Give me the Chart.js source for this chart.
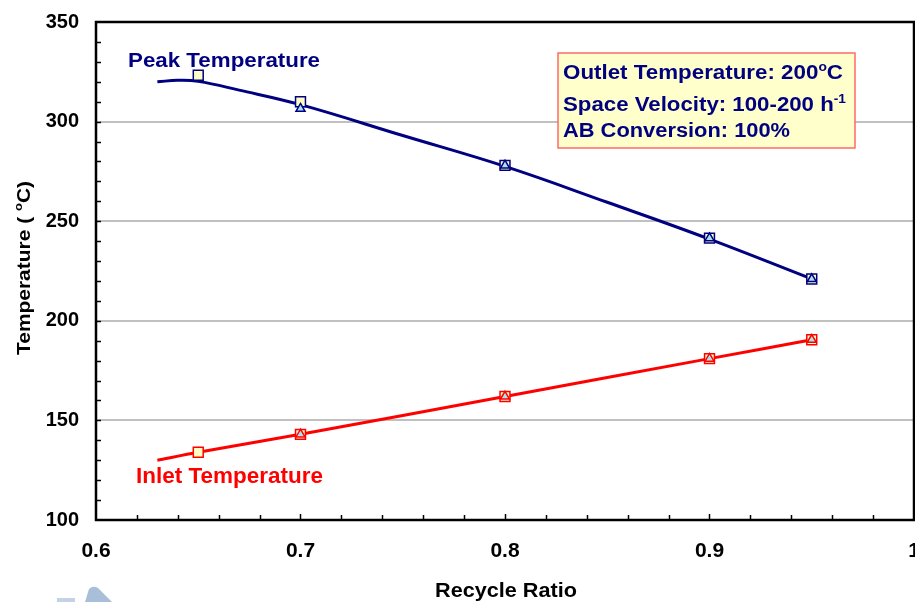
<!DOCTYPE html>
<html>
<head>
<meta charset="utf-8">
<title>Recycle Ratio vs Temperature</title>
<script src="https://cdn.jsdelivr.net/npm/chart.js@4.4.1/dist/chart.umd.min.js"></script>
<style>
    html, body { margin: 0; padding: 0; background: #fff; overflow: hidden; }
    canvas { display: block; }
</style>
</head>
<body>
<canvas id="tempChart" width="915" height="602"></canvas>
<script>
// fitted curves
const peakCurveX = [0.63, 0.64, 0.65, 0.67, 0.70, 0.75, 0.80, 0.85, 0.90, 0.95];
const peakCurveY = [320, 320.7, 320.2, 315.8, 308.5, 293, 277.5, 259.5, 241, 221];
const inletCurveX = [0.63, 0.65, 0.70, 0.80, 0.90, 0.95];
const inletCurveY = [130, 134, 143, 162, 181, 190.5];

// measured points (squares / triangles)
const peakSquareX = [0.65, 0.70, 0.80, 0.90, 0.95];
const peakSquareY = [323.3, 310, 278, 241.5, 221];
const peakTriangleX = [0.70, 0.80, 0.90, 0.95];
const peakTriangleY = [306.5, 278, 241.5, 221];
const inletSquareX = [0.65, 0.70, 0.80, 0.90, 0.95];
const inletSquareY = [134, 143, 162, 181, 190.5];
const inletTriangleX = [0.70, 0.80, 0.90, 0.95];
const inletTriangleY = [143, 162, 181, 190.5];

// axes
const xMin = 0.6, xMax = 1.0, xStep = 0.1, xMinorStep = 0.02;
const yMin = 100, yMax = 350, yStep = 50, yMinorStep = 10;

const NAVY = '#000080';
const RED = '#ff0000';
const FONT = 'Arial, "Liberation Sans", sans-serif';

function pairs(xs, ys) {
    return xs.map((x, i) => ({ x: x, y: ys[i] }));
}

// draws bold text runs (with superscripts) squeezed/stretched to a given width
function drawRuns(ctx, parts, x, y, size, width, color, align) {
    let natural = 0;
    parts.forEach(p => {
        ctx.font = `bold ${p.sup ? size * 0.62 : size}px ${FONT}`;
        natural += ctx.measureText(p.t).width;
    });
    const sx = width ? width / natural : 1;
    ctx.save();
    ctx.translate(x, y);
    ctx.scale(sx, 1);
    ctx.fillStyle = color;
    ctx.textAlign = 'left';
    ctx.textBaseline = 'alphabetic';
    let cx = align === 'center' ? -natural / 2 : 0;
    parts.forEach(p => {
        ctx.font = `bold ${p.sup ? size * 0.62 : size}px ${FONT}`;
        ctx.fillText(p.t, cx, p.sup ? -size * 0.42 : 0);
        cx += ctx.measureText(p.t).width;
    });
    ctx.restore();
}

const decorations = {
    id: 'decorations',
    beforeDatasetsDraw(chart) {
        const ctx = chart.ctx;
        const xs = chart.scales.x, ys = chart.scales.y;
        const a = chart.chartArea;

        ctx.save();
        ctx.strokeStyle = '#000';
        ctx.lineWidth = 1.5;
        // inward minor ticks
        for (let v = yMin + yMinorStep; v < yMax; v += yMinorStep) {
            const py = Math.round(ys.getPixelForValue(v)) + 0.5;
            ctx.beginPath();
            ctx.moveTo(a.left, py);
            ctx.lineTo(a.left + 5, py);
            ctx.stroke();
        }
        for (let i = 1; i < Math.round((xMax - xMin) / xMinorStep); i++) {
            const v = xMin + i * xMinorStep;
            const major = i % 5 === 0;
            const px = Math.round(xs.getPixelForValue(v)) + 0.5;
            ctx.beginPath();
            ctx.moveTo(px, a.bottom);
            ctx.lineTo(px, a.bottom - (major ? 6 : 5));
            ctx.stroke();
        }
        ctx.restore();
    },
    afterDraw(chart) {
        const ctx = chart.ctx;
        const a = chart.chartArea;

        // plot frame
        ctx.save();
        ctx.strokeStyle = '#000';
        ctx.lineWidth = 2.5;
        ctx.strokeRect(a.left, a.top, a.right - a.left, a.bottom - a.top);
        ctx.restore();

        // series labels
        drawRuns(ctx, [{ t: 'Peak Temperature' }], 128, 67, 21, 192, NAVY);
        drawRuns(ctx, [{ t: 'Inlet Temperature' }], 136, 483, 21.5, 187, RED);

        // conditions box
        ctx.save();
        ctx.fillStyle = '#ffffcc';
        ctx.fillRect(558, 53, 297, 95);
        ctx.strokeStyle = '#ff6a6a';
        ctx.lineWidth = 1.5;
        ctx.strokeRect(558, 53, 297, 95);
        ctx.restore();
        drawRuns(ctx, [{ t: 'Outlet Temperature: 200' }, { t: 'o', sup: true }, { t: 'C' }], 563, 79, 19.5, 280, NAVY);
        drawRuns(ctx, [{ t: 'Space Velocity: 100-200 h' }, { t: '-1', sup: true }], 563, 111, 19.5, 283, NAVY);
        drawRuns(ctx, [{ t: 'AB Conversion: 100%' }], 563, 137, 19.5, 227, NAVY);

        // axis titles
        ctx.save();
        ctx.translate(30, 268);
        ctx.rotate(-Math.PI / 2);
        drawRuns(ctx, [{ t: 'Temperature ( ' }, { t: 'o', sup: true }, { t: 'C)' }], 0, 0, 18.5, 174, '#000', 'center');
        ctx.restore();
        drawRuns(ctx, [{ t: 'Recycle Ratio' }], 506, 597, 20.5, 142, '#000', 'center');

        // faint logo corner at the bottom left
        ctx.save();
        ctx.fillStyle = '#a9bed8';
        ctx.beginPath();
        ctx.moveTo(85, 602);
        ctx.lineTo(89, 589);
        ctx.quadraticCurveTo(93, 585, 98, 588);
        ctx.lineTo(112, 602);
        ctx.closePath();
        ctx.fill();
        ctx.fillStyle = '#c3d2e4';
        ctx.fillRect(57, 598, 18, 4);
        ctx.restore();
    }
};

const ctx = document.getElementById('tempChart').getContext('2d');
new Chart(ctx, {
    type: 'scatter',
    data: {
        datasets: [
            {
                label: 'Peak triangles',
                data: pairs(peakTriangleX, peakTriangleY),
                showLine: false,
                pointStyle: 'triangle',
                pointRadius: 5.2,
                backgroundColor: '#a6e4f2',
                borderColor: NAVY,
                borderWidth: 1.5,
                order: 1
            },
            {
                label: 'Inlet triangles',
                data: pairs(inletTriangleX, inletTriangleY),
                showLine: false,
                pointStyle: 'triangle',
                pointRadius: 5.2,
                backgroundColor: '#a6e4f2',
                borderColor: RED,
                borderWidth: 1.5,
                order: 1
            },
            {
                label: 'Peak squares',
                data: pairs(peakSquareX, peakSquareY),
                showLine: false,
                pointStyle: 'rect',
                pointRadius: 7,
                backgroundColor: '#ffffc4',
                borderColor: NAVY,
                borderWidth: 1.5,
                order: 2
            },
            {
                label: 'Inlet squares',
                data: pairs(inletSquareX, inletSquareY),
                showLine: false,
                pointStyle: 'rect',
                pointRadius: 7,
                backgroundColor: '#ffffc4',
                borderColor: RED,
                borderWidth: 1.5,
                order: 2
            },
            {
                label: 'Peak Temperature',
                data: pairs(peakCurveX, peakCurveY),
                showLine: true,
                pointRadius: 0,
                borderColor: NAVY,
                borderWidth: 3,
                tension: 0.4,
                order: 3
            },
            {
                label: 'Inlet Temperature',
                data: pairs(inletCurveX, inletCurveY),
                showLine: true,
                pointRadius: 0,
                borderColor: RED,
                borderWidth: 3,
                tension: 0.3,
                order: 3
            }
        ]
    },
    options: {
        responsive: false,
        animation: false,
        devicePixelRatio: 1,
        layout: { autoPadding: false, padding: { left: 0, top: 22, right: 1, bottom: 0 } },
        plugins: {
            legend: { display: false },
            tooltip: { enabled: false }
        },
        scales: {
            x: {
                type: 'linear',
                min: xMin,
                max: xMax,
                border: { display: false },
                grid: { display: false, drawTicks: false },
                ticks: {
                    stepSize: xStep,
                    autoSkip: false,
                    maxRotation: 0,
                    padding: 19,
                    color: '#000',
                    font: { family: FONT, size: 21, weight: 'bold' },
                    callback: v => Math.abs(v - 1) < 1e-9 ? '1' : Number(v).toFixed(1)
                },
                afterFit: scale => {
                    scale.height = 82;
                    scale.paddingLeft = 0;
                    scale.paddingRight = 0;
                }
            },
            y: {
                type: 'linear',
                min: yMin,
                max: yMax,
                border: { display: false },
                grid: { color: '#c0c0c0', lineWidth: 2, drawTicks: false },
                ticks: {
                    stepSize: yStep,
                    padding: 17,
                    color: '#000',
                    font: { family: FONT, size: 20, weight: 'bold' }
                },
                afterFit: scale => {
                    scale.width = 96;
                    scale.paddingTop = 0;
                    scale.paddingBottom = 0;
                }
            }
        }
    },
    plugins: [decorations]
});
</script>
</body>
</html>
